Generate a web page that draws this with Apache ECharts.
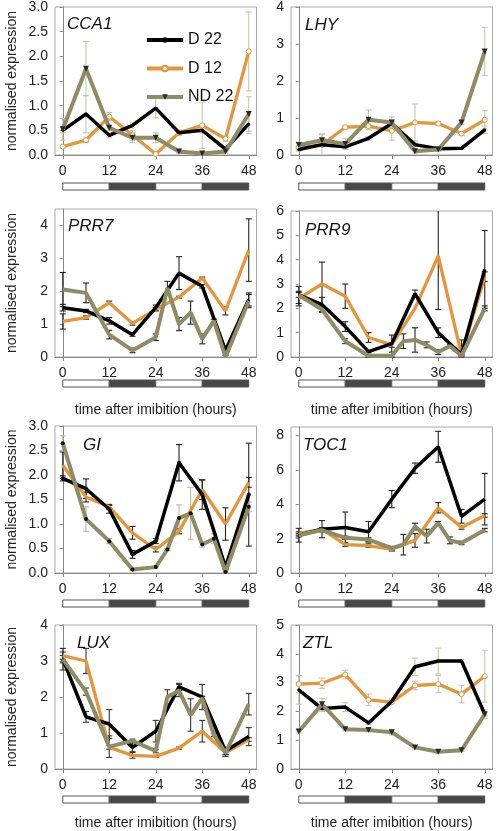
<!DOCTYPE html>
<html><head><meta charset="utf-8">
<script src="https://cdn.jsdelivr.net/npm/echarts@6/dist/echarts.min.js"></script>
<style>html,body{margin:0;padding:0;background:#fff}#c{width:498px;height:831px}</style>
</head><body><div id="c"></div>
<script>
// ---------- data ----------
const hours = [0,6,12,18,24,30,36,42,48];
const hoursFine = [0,6,12,18,24,27,30,33,36,39,42,48];
const xTicks = [0,12,24,36,48];
const seriesNames = ['D 22','D 12','ND 22'];
// photoperiod bar: [start, end, isDark]
const photoperiod = [[0,12,0],[12,24,1],[24,36,0],[36,48,1]];

const cca1_D22  = [0.5,0.83,0.4,0.6,0.95,0.45,0.5,0.12,0.63];
const cca1_D22e = [0.05,0.38,0.05,0.05,0.2,0.05,0.05,0.03,0.2];
const cca1_D12  = [0.17,0.3,0.78,0.4,0.02,0.45,0.6,0.33,2.1];
const cca1_D12e = [0.03,0.05,0.08,0.1,0.03,0.05,0.47,0.05,0.8];
const cca1_ND22 = [0.52,1.75,0.55,0.35,0.35,0.07,0.03,0.07,0.83];
const cca1_ND22e= [0.22,0.55,0.05,0.1,0.1,0.03,0.03,0.03,0.35];

const lhy_D22  = [0.15,0.28,0.22,0.45,0.85,0.28,0.17,0.18,0.68];
const lhy_D22e = [0.05,0.05,0.05,0.05,0.1,0.05,0.05,0.03,0.1];
const lhy_D12  = [0.2,0.27,0.75,0.78,0.65,0.88,0.85,0.58,0.95];
const lhy_D12e = [0.05,0.3,0.05,0.05,0.25,0.5,0.05,0.05,0.25];
const lhy_ND22 = [0.27,0.4,0.3,0.95,0.88,0.1,0.15,0.88,2.8];
const lhy_ND22e= [0.08,0.15,0.15,0.27,0.15,0.05,0.05,0.05,0.65];

const prr7_D22  = [1.5,1.4,1.1,0.68,1.5,2.55,2.15,0.2,1.75];
const prr7_D22e = [0.1,0.05,0.1,0.05,0.08,0.5,0.05,0.05,0.2];
const prr7_D12  = [1.08,1.2,1.65,1.02,1.45,1.82,2.4,1.4,3.25];
const prr7_D12e = [0.23,0.05,0.05,0.05,0.05,0.03,0.03,0.12,0.95];
const prr7_ND22 = [2.05,1.95,0.68,0.2,0.6,2.1,1.0,1.35,0.55,1.1,0.0,1.7];
const prr7_ND22e= [0.52,0.3,0.13,0.07,0.1,0.2,0.2,0.35,0.15,0.05,0.05,0.2];

const prr9_D22  = [2.55,2.15,1.25,0.22,0.55,2.6,1.0,0.1,3.6];
const prr9_D22e = [0.35,0.3,0.2,0.05,0.35,0.15,0.2,0.05,1.6];
const prr9_D12  = [2.4,3.0,2.5,0.8,0.5,2.0,4.15,0.1,3.3];
const prr9_D12e = [0.3,0.9,0.5,0.2,0.1,0,2.2,0.6,0.2];
const prr9_ND22 = [2.55,1.95,0.65,0.05,0.05,0.65,0.7,0.5,0.2,0.45,0.05,2.0];
const prr9_ND22e= [0.1,0.1,0.1,0.05,0.05,0.3,0.5,0.12,0.1,0.05,0.05,0.1];

const gi_D22  = [1.93,1.72,1.3,0.38,0.65,2.25,1.6,0.12,1.6];
const gi_D22e = [0.05,0.2,0.08,0.08,0.05,0.37,0.3,0.05,1.05];
const gi_D12  = [2.2,1.55,1.35,0.82,0.48,0.85,1.7,1.0,1.85];
const gi_D12e = [0.27,0.1,0.05,0.13,0.05,0.05,0.2,0.33,0.1];
const gi_ND22 = [2.65,1.1,0.65,0.07,0.12,0.48,1.12,1.22,0.58,0.7,0.02,1.35];
const gi_ND22e= [0.15,0.25,0.05,0.02,0.02,0.02,0.27,0.53,0.05,0.1,0.02,0.1];

const toc1_D22  = [2.2,2.55,2.65,2.4,4.3,6.1,7.35,3.3,4.3];
const toc1_D22e = [0.4,0.5,0.9,0.6,0.5,0.3,0.9,0.4,1.5];
const toc1_D12  = [2.3,2.55,1.65,1.6,1.38,1.9,3.8,2.65,3.35];
const toc1_D12e = [0.1,0.1,0.1,0.1,0.1,0.4,0.3,0.1,0.1];
const toc1_ND22 = [2.2,2.5,2.05,1.95,1.45,1.65,2.7,2.15,2.9,1.9,1.75,2.5];
const toc1_ND22e= [0.1,0.1,0.1,0.1,0.1,0.6,0.2,0.4,0.1,0.2,0.1,0.1];

const lux_D22  = [3.05,1.45,1.25,0.6,1.05,2.28,2.0,0.5,0.9];
const lux_D22e = [0.3,0.15,0.4,0.12,0.3,0.1,0.35,0.1,0.25];
const lux_D12  = [3.15,3.0,0.6,0.38,0.35,0.58,1.05,0.45,0.82];
const lux_D12e = [0.1,0.35,0.05,0.08,0.03,0.03,0.3,0.05,0.05];
const lux_ND22 = [3.05,2.15,0.62,0.78,0.5,2.0,2.18,1.5,1.97,0.95,0.45,1.8];
const lux_ND22e= [0.1,0.1,0.3,0.05,0.05,0.2,0.17,0.45,0.05,0.05,0.1,0.3];

const ztl_D22  = [2.75,2.1,2.15,1.6,2.35,3.55,3.75,3.75,1.9];
const ztl_D22e = [0.5,0.1,0.15,0.05,0.05,0.3,0.45,0.05,0.05];
const ztl_D12  = [2.95,2.98,3.28,2.4,2.32,2.9,2.95,2.6,3.22];
const ztl_D12e = [0.3,0.18,0.15,0.2,0.05,0.15,0.3,0.3,0.9];
const ztl_ND22 = [1.3,2.25,1.38,1.35,1.28,0.75,0.6,0.65,1.9];
const ztl_ND22e= [0.05,0.2,0.05,0.05,0.1,0.05,0.05,0.05,0.15];

// ---------- panel definitions ----------
const panels = [
 {t:'CCA1',d22:cca1_D22,d22e:cca1_D22e,d12:cca1_D12,d12e:cca1_D12e,nd:cca1_ND22,nde:cca1_ND22e,ndH:hours,
  yMax:3,yTicks:[0,0.5,1,1.5,2,2.5,3],dec:1,mk:'full',err:['#c6c6ae','#c6c6ae'],
  L:{left:55,top:7,h:148,bar:183,title:[62,11],yName:true,xName:false}},
 {t:'LHY',d22:lhy_D22,d22e:lhy_D22e,d12:lhy_D12,d12e:lhy_D12e,nd:lhy_ND22,nde:lhy_ND22e,ndH:hours,
  yMax:4,yTicks:[0,1,2,3,4],dec:0,mk:'full',err:['#c6c6ae','#c6c6ae'],
  L:{left:291,top:7,h:148,bar:183,title:[300,12],yName:false,xName:false}},
 {t:'PRR7',d22:prr7_D22,d22e:prr7_D22e,d12:prr7_D12,d12e:prr7_D12e,nd:prr7_ND22,nde:prr7_ND22e,ndH:hoursFine,
  yMax:4.5,yTicks:[0,1,2,3,4],dec:0,mk:'none',err:['#222','#222'],
  L:{left:55,top:209,h:148,bar:380,title:[63,213],yName:true,xName:true,xGap:46}},
 {t:'PRR9',d22:prr9_D22,d22e:prr9_D22e,d12:prr9_D12,d12e:prr9_D12e,nd:prr9_ND22,nde:prr9_ND22e,ndH:hoursFine,
  yMax:6,yTicks:[0,1,2,3,4,5,6],dec:0,mk:'none',err:['#222','#222'],
  L:{left:291,top:211,h:146,bar:380,title:[300,217],yName:false,xName:true,xGap:46}},
 {t:'GI',d22:gi_D22,d22e:gi_D22e,d12:gi_D12,d12e:gi_D12e,nd:gi_ND22,nde:gi_ND22e,ndH:hoursFine,
  yMax:3,yTicks:[0,0.5,1,1.5,2,2.5,3],dec:1,mk:'dots',err:['#222','#b9b99d'],
  L:{left:55,top:426,h:147,bar:600,title:[78,432],yName:true,xName:false}},
 {t:'TOC1',d22:toc1_D22,d22e:toc1_D22e,d12:toc1_D12,d12e:toc1_D12e,nd:toc1_ND22,nde:toc1_ND22e,ndH:hoursFine,
  yMax:8.5,yTicks:[0,2,4,6,8],dec:0,mk:'none',err:['#222','#222'],
  L:{left:291,top:427,h:146,bar:600,title:[298,432],yName:false,xName:false}},
 {t:'LUX',d22:lux_D22,d22e:lux_D22e,d12:lux_D12,d12e:lux_D12e,nd:lux_ND22,nde:lux_ND22e,ndH:hoursFine,
  yMax:4,yTicks:[0,1,2,3,4],dec:0,mk:'none',err:['#333','#333'],
  L:{left:55,top:625,h:148,bar:796,title:[72,630],yName:true,xName:true,xGap:47}},
 {t:'ZTL',d22:ztl_D22,d22e:ztl_D22e,d12:ztl_D12,d12e:ztl_D12e,nd:ztl_ND22,nde:ztl_ND22e,ndH:hours,
  yMax:5,yTicks:[0,1,2,3,4,5],dec:0,mk:'full',err:['#c6c6ae','#c6c6ae'],
  L:{left:291,top:625,h:148,bar:796,title:[298,630],yName:false,xName:true,xGap:47}}
];

const C_D22 = '#000000', C_D12 = '#E6953B', C_ND = '#8D8C66';
const FONT = 'Liberation Sans, Arial, sans-serif';
const W = 201.5;

const grids = [], xAxes = [], yAxes = [], series = [], titles = [];

function errRender(params, api){
  const x = api.value(0), lo = api.value(1), hi = api.value(2), ci = api.value(3);
  const cs = params.coordSys;
  const pHi = api.coord([x, hi]), pLo = api.coord([x, lo]);
  let yT = pHi[1], yB = pLo[1];
  const topCap = yT >= cs.y, botCap = yB <= cs.y + cs.height;
  yT = Math.max(yT, cs.y); yB = Math.min(yB, cs.y + cs.height);
  const col = api.value(4) ? panels[ci].err[1] : panels[ci].err[0];
  const xc = pHi[0], w = 3;
  const st = {stroke: col, lineWidth: 1.1};
  const ch = [{type:'line', shape:{x1:xc,y1:yT,x2:xc,y2:yB}, style:st}];
  if (topCap) ch.push({type:'line', shape:{x1:xc-w,y1:yT,x2:xc+w,y2:yT}, style:st});
  if (botCap) ch.push({type:'line', shape:{x1:xc-w,y1:yB,x2:xc+w,y2:yB}, style:st});
  return {type:'group', children: ch};
}
function barRender(params, api){
  const a = api.coord([api.value(0), 1]), b = api.coord([api.value(1), 0]);
  return {type:'rect', shape:{x:a[0], y:a[1], width:b[0]-a[0], height:b[1]-a[1]},
          style:{fill: api.value(2) ? '#484848' : '#ffffff', stroke:'#555', lineWidth:1}};
}

panels.forEach((p, i) => {
  const L = p.L;
  const gi = grids.length;
  grids.push({left:L.left, top:L.top, width:W, height:L.h, show:true, borderColor:'#a8a8a8', borderWidth:1, backgroundColor:'transparent'});
  xAxes.push({gridIndex:gi, type:'value', min:-2, max:50,
    axisLine:{show:true, onZero:false, lineStyle:{color:'#888'}},
    axisTick:{show:true, length:4, customValues:xTicks, lineStyle:{color:'#888'}},
    axisLabel:{customValues:xTicks, fontSize:14, color:'#222', fontFamily:FONT, margin:9},
    splitLine:{show:false},
    name: L.xName ? 'time after imibition (hours)' : '', nameLocation:'middle', nameGap:L.xGap || 40,
    nameTextStyle:{fontSize:14, color:'#222', fontFamily:FONT}});
  yAxes.push({gridIndex:gi, type:'value', min:0, max:p.yMax,
    axisLine:{show:true, lineStyle:{color:'#888'}},
    axisTick:{show:true, length:3, customValues:p.yTicks, lineStyle:{color:'#888'}},
    axisLabel:{customValues:p.yTicks, fontSize:14, color:'#222', fontFamily:FONT, margin:7,
      formatter: v => Number(v).toFixed(p.dec)},
    splitLine:{show:false},
    name: L.yName ? 'normalised expression' : '', nameLocation:'middle', nameGap:36,
    nameTextStyle:{fontSize:14, color:'#222', fontFamily:FONT}});
  titles.push({text:p.t, left:L.title[0], top:L.title[1],
    textStyle:{fontSize:17, fontStyle:'italic', fontWeight:'normal', color:'#111', fontFamily:FONT}});

  // error bars
  const ed = [];
  hours.forEach((h,k)=>{ if(p.d12e[k]) ed.push([h, p.d12[k]-p.d12e[k], p.d12[k]+p.d12e[k], i, 0]); });
  hours.forEach((h,k)=>{ if(p.d22e[k]) ed.push([h, p.d22[k]-p.d22e[k], p.d22[k]+p.d22e[k], i, 0]); });
  p.ndH.forEach((h,k)=>{ if(p.nde[k]) ed.push([h, p.nd[k]-p.nde[k], p.nd[k]+p.nde[k], i, 1]); });
  series.push({type:'custom', xAxisIndex:gi, yAxisIndex:gi, renderItem:errRender, data:ed, z:1, silent:true});

  const full = p.mk === 'full', dots = p.mk === 'dots';
  const d22sym = full ? {symbol:'circle', symbolSize:3, itemStyle:{color:C_D22}} :
                 dots ? {symbol:'circle', symbolSize:4, itemStyle:{color:'#111'}} : {symbol:'none'};
  const d12sym = full ? {symbol:'circle', symbolSize:5, itemStyle:{color:'#fff', borderColor:C_D12, borderWidth:1}} : {symbol:'none'};
  const ndsym = full ? {symbol:'triangle', symbolSize:6, symbolRotate:180, itemStyle:{color:'#2a2a2a'}} :
                dots ? {symbol:'circle', symbolSize:4, itemStyle:{color:'#111'}} : {symbol:'none'};
  const mk = (name, xs, ys, col, lw, sym, z) => Object.assign({
    type:'line', name, xAxisIndex:gi, yAxisIndex:gi, data: xs.map((h,k)=>[h, ys[k]]),
    lineStyle:{color:col, width:lw}, color:col, showSymbol: sym.symbol !== 'none', animation:false, z:z
  }, sym);
  series.push(mk('D 22', hours, p.d22, C_D22, 3.5, d22sym, 4));
  series.push(mk('D 12', hours, p.d12, C_D12, 3.3, d12sym, 3));
  series.push(mk('ND 22', p.ndH, p.nd, C_ND, 4, ndsym, 5));

  // photoperiod bar
  const bi = grids.length;
  grids.push({left:L.left, top:L.bar, width:W, height:7});
  xAxes.push({gridIndex:bi, type:'value', min:-2, max:50, show:false});
  yAxes.push({gridIndex:bi, type:'value', min:0, max:1, show:false});
  series.push({type:'custom', xAxisIndex:bi, yAxisIndex:bi, renderItem:barRender, data:photoperiod, silent:true});
});

const chart = echarts.init(document.getElementById('c'), null, {renderer:'canvas'});
chart.setOption({
  animation:false,
  backgroundColor:'#fff',
  title: titles,
  legend:{data:seriesNames, orient:'vertical', left:140, top:27, itemWidth:36, itemHeight:7, itemGap:12.5,
    lineStyle:{width:4},
    textStyle:{fontSize:16, color:'#111', fontFamily:FONT}, selectedMode:false},
  grid: grids, xAxis: xAxes, yAxis: yAxes, series: series
});
</script></body></html>
